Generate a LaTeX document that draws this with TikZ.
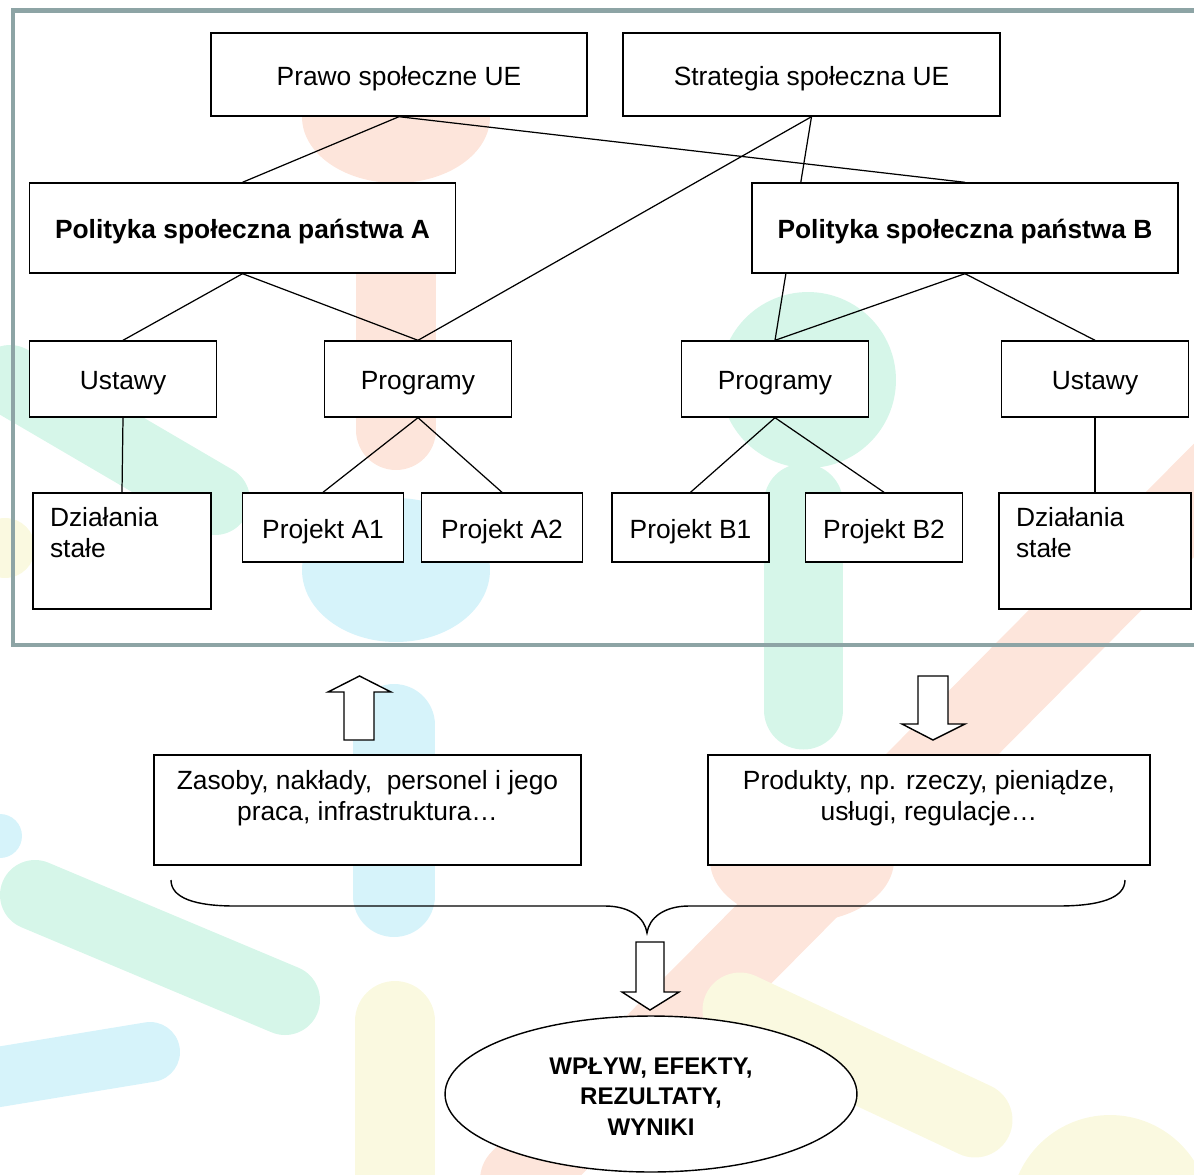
\documentclass[tikz,border=0pt]{standalone}
\usepackage{fontspec}
\setmainfont{Liberation Sans}
\usetikzlibrary{shapes.geometric}

\definecolor{framegray}{RGB}{141,164,165}
\definecolor{wmorange}{RGB}{253,229,219}
\definecolor{wmgreen}{RGB}{214,246,233}
\definecolor{wmcyan}{RGB}{214,243,250}
\definecolor{wmyellow}{RGB}{250,249,224}

\pgfdeclarelayer{marks}
\pgfdeclarelayer{links}
\pgfsetlayers{marks,links,main}

\begin{document}
\begin{tikzpicture}[x=0.02cm, y=-0.02cm,
    every node/.style={font=\fontsize{15}{17.6}\selectfont},
    box/.style={draw, fill=white, line width=0.8pt, inner sep=0pt, align=center},
    oneline/.style={box, text height=12.2pt, text depth=0pt},
    policy/.style={oneline, minimum width=8.52cm, minimum height=1.8cm,
        font=\fontsize{15}{17.6}\selectfont\bfseries},
    levelbox/.style={oneline, minimum width=3.74cm, minimum height=1.52cm},
    project/.style={oneline, minimum height=1.38cm},
    actbox/.style={box, align=left, minimum height=2.32cm, inner xsep=0.34cm},
    link/.style={line width=0.7pt},
    fat arrow/.style={draw, fill=white, line width=0.8pt, line join=miter}]

% page size
\useasboundingbox (0,0) rectangle (1194,1174);
\clip (0,0) rectangle (1194,1174);

% faint logo shapes behind the diagram
\begin{pgfonlayer}{marks}
\fill[wmorange] (396,117) ellipse [x radius=1.88cm, y radius=1.32cm];
\draw[wmorange, line width=1.6cm, line cap=round] (396,230) -- (396,430);
\fill[wmcyan] (396,570) ellipse [x radius=1.88cm, y radius=1.44cm];
\draw[wmcyan, line width=1.64cm, line cap=round] (394,725) -- (394,896);
\draw[wmyellow, line width=1.6cm, line cap=round] (395,1021) -- (395,1230);
\fill[wmgreen] (808,380) circle [radius=1.76cm];
\draw[wmgreen, line width=1.58cm, line cap=round] (803,503) -- (803,710);
\draw[wmgreen, line width=1.4cm, line cap=round] (10,380) -- (215,500);
\draw[wmgreen, line width=1.4cm, line cap=round] (35,895) -- (285,1000);
\draw[wmcyan, line width=1.2cm, line cap=round] (-20,1080) -- (150,1052);
\fill[wmcyan] (0,836) circle [radius=0.44cm];
\fill[wmyellow] (5,548) circle [radius=0.6cm];
\draw[wmorange, line width=1.6cm, line cap=round] (520,1180) -- (1230,464);
\fill[wmorange] (802,860) ellipse [x radius=1.84cm, y radius=1.24cm];
\draw[wmyellow, line width=1.5cm, line cap=round] (740,1010) -- (975,1120);
\fill[wmyellow] (1110,1215) circle [radius=2cm];
\end{pgfonlayer}

% frame round the two states
\draw[framegray, line width=2.56pt] (13,10.5) rectangle (1240,645);

% EU level
\node[oneline, minimum width=7.52cm, minimum height=1.66cm] (prawo) at (399,74.5) {Prawo społeczne UE};
\node[oneline, minimum width=7.54cm, minimum height=1.66cm] (strat) at (811.5,74.5) {Strategia społeczna UE};

% state policies
\node[policy] (polA) at (242.5,228) {Polityka społeczna państwa A};
\node[policy] (polB) at (965,228) {Polityka społeczna państwa B};

% laws and programmes
\node[levelbox] (ustA) at (123,379) {Ustawy};
\node[levelbox] (progA) at (418,379) {Programy};
\node[levelbox] (progB) at (775,379) {Programy};
\node[levelbox] (ustB) at (1095,379) {Ustawy};

% actions and projects
\node[actbox, text width=2.88cm] (dzA) at (122,551) {\strut Działania\\\strut stałe\\\strut};
\node[project, minimum width=3.22cm] (projA1) at (323,527.5) {Projekt A1};
\node[project, minimum width=3.22cm] (projA2) at (502,527.5) {Projekt A2};
\node[project, minimum width=3.14cm] (projB1) at (690.5,527.5) {Projekt B1};
\node[project, minimum width=3.14cm] (projB2) at (884,527.5) {Projekt B2};
\node[actbox, text width=3.16cm] (dzB) at (1095,551) {\strut Działania\\\strut stałe\\\strut};

% tree connectors
\begin{pgfonlayer}{links}
\draw[link] (prawo.south) -- (polA.north);
\draw[link] (prawo.south) -- (polB.north);
\draw[link] (strat.south) -- (progA.north);
\draw[link] (strat.south) -- (progB.north);
\draw[link] (polA.south) -- (ustA.north);
\draw[link] (polA.south) -- (progA.north);
\draw[link] (polB.south) -- (progB.north);
\draw[link] (polB.south) -- (ustB.north);
\draw[link] (ustA.south) -- (dzA.north);
\draw[link] (progA.south) -- (projA1.north);
\draw[link] (progA.south) -- (projA2.north);
\draw[link] (progB.south) -- (projB1.north);
\draw[link] (progB.south) -- (projB2.north);
\draw[link] (ustB.south) -- (dzB.north);
\end{pgfonlayer}

% inputs and outputs
\node[box, minimum width=8.54cm, minimum height=2.2cm] (zasoby) at (367.5,810)
    {\strut Zasoby, nakłady,\ \ personel i jego\\\strut praca, infrastruktura…\\\mbox{}};
\node[box, minimum width=8.84cm, minimum height=2.2cm] (produkty) at (929,810)
    {\strut Produkty, np. rzeczy, pieniądze,\\\strut usługi, regulacje…\\\mbox{}};

\draw[fat arrow] (344,740) -- (344,692) -- (328,692) -- (359.5,676)
    -- (391,692) -- (374,692) -- (374,740) -- cycle;
\draw[fat arrow] (918,676) -- (948,676) -- (948,724) -- (965,724)
    -- (933,740) -- (902,724) -- (918,724) -- cycle;

% brace
\draw[line width=0.8pt]
    (171,880) .. controls (171,898) and (195,906) .. (235,906) -- (605,906)
    .. controls (630,906) and (645,918) .. (647,933)
    .. controls (649,918) and (664,906) .. (689,906) -- (1058,906)
    .. controls (1100,906) and (1125,898) .. (1125,880);

\draw[fat arrow] (636,942) -- (664,942) -- (664,992) -- (679,992)
    -- (650,1010) -- (622,992) -- (636,992) -- cycle;

% effects
\node[box, ellipse, minimum width=8.24cm, minimum height=3.12cm,
    font=\fontsize{13.7}{17.4}\selectfont\bfseries] (wplyw) at (651,1094)
    {\strut WPŁYW, EFEKTY,\\REZULTATY,\\WYNIKI};

\end{tikzpicture}
\end{document}
